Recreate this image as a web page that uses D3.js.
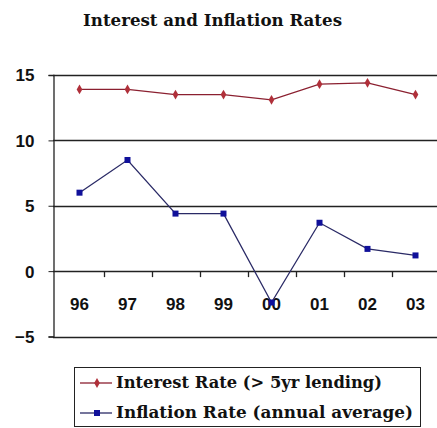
<!DOCTYPE html>
<html><head><meta charset="utf-8">
<script src="https://cdn.jsdelivr.net/npm/d3@7"></script>
<style>body{margin:0;background:#fff}svg{display:block}</style>
</head><body>
<script>
const categories = ["96","97","98","99","00","01","02","03"];
const interestRate = [13.9,13.9,13.5,13.5,13.1,14.3,14.4,13.5];
const inflationRate = [6.0,8.5,4.4,4.4,-2.4,3.7,1.7,1.2];
const yTicks = [-5,0,5,10,15];
const seriesNames = ["Interest Rate (> 5yr lending)","Inflation Rate (annual average)"];

const W=437,H=428;
const svg=d3.select("body").append("svg").attr("width",W).attr("height",H);
svg.append("rect").attr("width",W).attr("height",H).attr("fill","#fff");

const x=d3.scaleBand().domain(categories).range([55.5,439.5]);
const y=d3.scaleLinear().domain([-5,15]).range([336.5,75]);
const axisX0=53;

svg.append("text").attr("x",83).attr("y",26)
  .attr("font-family","DejaVu Serif").attr("font-weight","bold").attr("font-size",16)
  .attr("textLength",259).attr("lengthAdjust","spacingAndGlyphs").attr("fill","#111")
  .text("Interest and Inflation Rates");

// gridlines
svg.append("g").selectAll("line").data(yTicks).join("line")
  .attr("x1",axisX0).attr("x2",W).attr("y1",d=>Math.round(y(d))+0.5).attr("y2",d=>Math.round(y(d))+0.5)
  .attr("stroke","#222").attr("stroke-width",1.3);

// y axis
const ya=d3.axisLeft(y).tickValues(yTicks).tickSize(5).tickPadding(14).tickFormat(d3.format("d"));
const gy=svg.append("g").attr("transform",`translate(${axisX0+0.5},0)`).call(ya);
gy.select(".domain").attr("stroke","#222").attr("stroke-width",1.3);
gy.selectAll(".tick line").attr("stroke","#222");
gy.selectAll("text").attr("font-family","Liberation Sans").attr("font-weight","bold").attr("font-size",17).attr("fill","#111").attr("dy","0.35em");

// x axis at 0
const xa=d3.axisBottom(x).tickSize(0).tickPadding(0);
const gx=svg.append("g").attr("transform",`translate(0,${Math.round(y(0))+0.5})`).call(xa);
gx.select(".domain").remove();
gx.selectAll("text").attr("font-family","Liberation Sans").attr("font-weight","bold").attr("font-size",17).attr("fill","#111").attr("y",38).attr("dy","0");
// band boundary ticks
svg.append("g").selectAll("line").data(categories.slice(1)).join("line")
  .attr("x1",d=>Math.round(x(d))+0.5).attr("x2",d=>Math.round(x(d))+0.5)
  .attr("y1",y(0)).attr("y2",y(0)+6).attr("stroke","#222").attr("stroke-width",1.3);

const cx=d=>x(d)+x.bandwidth()/2;
const line=d3.line().x((d,i)=>cx(categories[i])).y(d=>y(d));

svg.append("path").datum(interestRate).attr("d",line).attr("fill","none").attr("stroke","#8b2030").attr("stroke-width",1.3);
svg.append("g").selectAll("path").data(interestRate).join("path")
  .attr("d",d3.symbol(d3.symbolDiamond,28)).attr("transform",(d,i)=>`translate(${cx(categories[i])},${y(d)})`).attr("fill","#b0303a");

svg.append("path").datum(inflationRate).attr("d",line).attr("fill","none").attr("stroke","#2a2a66").attr("stroke-width",1.3);
svg.append("g").selectAll("rect").data(inflationRate).join("rect")
  .attr("x",(d,i)=>cx(categories[i])-3).attr("y",d=>y(d)-3).attr("width",6).attr("height",6).attr("fill","#10109a");

// legend
const lg=svg.append("g");
lg.append("rect").attr("x",74.5).attr("y",367.5).attr("width",346).attr("height",59).attr("fill","#fff").attr("stroke","#222").attr("stroke-width",1);
const rows=[{name:seriesNames[0],c:"#8b2030",m:"#b0303a",sym:"d",yy:383,len:266},{name:seriesNames[1],c:"#2a2a66",m:"#10109a",sym:"s",yy:413,len:297}];
rows.forEach(r=>{
  lg.append("line").attr("x1",80).attr("x2",112).attr("y1",r.yy).attr("y2",r.yy).attr("stroke",r.c).attr("stroke-width",1.3);
  if(r.sym==="d") lg.append("path").attr("d",d3.symbol(d3.symbolDiamond,28)).attr("transform",`translate(97,${r.yy})`).attr("fill",r.m);
  else lg.append("rect").attr("x",94).attr("y",r.yy-3).attr("width",6).attr("height",6).attr("fill",r.m);
  lg.append("text").attr("x",116).attr("y",r.yy).attr("dy","0.33em").attr("font-family","DejaVu Serif").attr("font-weight","bold").attr("font-size",16)
    .attr("textLength",r.len).attr("lengthAdjust","spacingAndGlyphs").attr("fill","#111").text(r.name);
});
</script>
</body></html>
